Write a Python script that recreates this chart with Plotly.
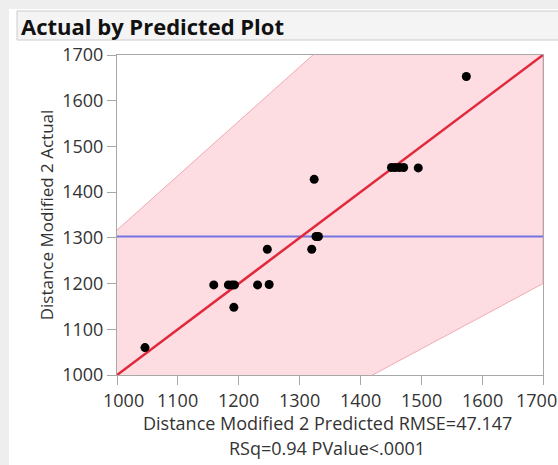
import plotly.graph_objects as go

# Data
predicted = [1046, 1159, 1183, 1189, 1193, 1192, 1231, 1250, 1247, 1320,
             1324, 1327, 1331, 1451, 1457, 1464, 1471, 1495, 1574]
actual = [1060, 1197, 1197, 1197, 1197, 1148, 1197, 1198, 1275, 1275,
          1428, 1303, 1303, 1454, 1454, 1454, 1454, 1453, 1653]
mean_actual = 1303

# Confidence band boundary lines
upper_x = [1000, 1700]
upper_y = [1317, 2150]
lower_x = [1700, 1000]
lower_y = [1200, 700]

fit_x = [1000, 1700]
fit_y = [1000, 1700]

ticks = [1000, 1100, 1200, 1300, 1400, 1500, 1600, 1700]

title_text = "Actual by Predicted Plot"
x_title_1 = "Distance Modified 2 Predicted RMSE=47.147"
x_title_2 = "RSq=0.94 PValue<.0001"
y_title = "Distance Modified 2 Actual"

FONT = "Open Sans"
TXT = "#333333"

W, H = 558, 465
L, R, T, B = 117, 15, 55, 90
PW, PH = W - L - R, H - T - B


def px(x):
    return (x - L) / PW


def py(y):
    return (H - B - y) / PH


fig = go.Figure()

fig.add_trace(go.Scatter(
    x=upper_x + lower_x, y=upper_y + lower_y,
    fill="toself", fillcolor="#fddde2", mode="lines",
    line=dict(color="#f1a9b3", width=1), hoverinfo="skip", showlegend=False))

fig.add_trace(go.Scatter(
    x=[1000, 1700], y=[mean_actual, mean_actual], mode="lines",
    line=dict(color="#7474e2", width=2), showlegend=False))

fig.add_trace(go.Scatter(
    x=fit_x, y=fit_y, mode="lines",
    line=dict(color="#e2283d", width=2.5), showlegend=False))

fig.add_trace(go.Scatter(
    x=predicted, y=actual, mode="markers",
    marker=dict(color="black", size=9), showlegend=False))

axis_common = dict(
    range=[1000, 1700], tickvals=ticks, showgrid=False, zeroline=False,
    showline=True, linecolor="#a8a8a8", linewidth=1, mirror=True,
    ticks="outside", ticklen=9, tickcolor="#a8a8a8",
    tickfont=dict(family=FONT, size=18, color=TXT))

fig.update_xaxes(**axis_common, showticklabels=False)
fig.update_yaxes(**axis_common, title=dict(text=y_title, standoff=4,
                 font=dict(family=FONT, size=17, color=TXT)))

# x tick labels (first/last kept inside the frame, as in the reference)
for i, t in enumerate(ticks):
    shift = 6 if i == 0 else (-7 if i == len(ticks) - 1 else 0)
    fig.add_annotation(text=str(t), xref="x", yref="paper", x=t, y=0,
                       xanchor="center", yanchor="middle", xshift=shift, yshift=-25,
                       showarrow=False, font=dict(family=FONT, size=18, color=TXT))

# Background panel and title bar
fig.add_shape(type="rect", xref="paper", yref="paper", x0=px(0), x1=px(9),
              y0=py(H), y1=py(0), layer="below", line=dict(width=0), fillcolor="#eeeeee")
fig.add_shape(type="rect", xref="paper", yref="paper", x0=px(0), x1=px(W),
              y0=py(9), y1=py(0), layer="below", line=dict(width=0), fillcolor="#eeeeee")
fig.add_shape(type="rect", xref="paper", yref="paper", x0=px(17), x1=px(W + 5),
              y0=py(40), y1=py(11), layer="below",
              line=dict(color="#cccccc", width=1), fillcolor="#f4f4f4")

fig.add_annotation(text="<b>" + title_text + "</b>", xref="paper", yref="paper",
                   x=px(19), y=py(26), xanchor="left", yanchor="middle",
                   showarrow=False, font=dict(family=FONT, size=22, color="#111111"))
fig.add_annotation(text=x_title_1, xref="paper", yref="paper",
                   x=px(327), y=py(423), xanchor="center", yanchor="middle",
                   showarrow=False, font=dict(family=FONT, size=18, color=TXT))
fig.add_annotation(text=x_title_2, xref="paper", yref="paper",
                   x=px(327), y=py(448), xanchor="center", yanchor="middle",
                   showarrow=False, font=dict(family=FONT, size=18, color=TXT))

fig.update_layout(
    width=W, height=H,
    margin=dict(l=L, r=R, t=T, b=B),
    paper_bgcolor="white", plot_bgcolor="white",
    font=dict(family=FONT, color=TXT),
)

fig.write_html("out.html", config={"displayModeBar": False},
               post_script="document.body.style.margin='0';")
